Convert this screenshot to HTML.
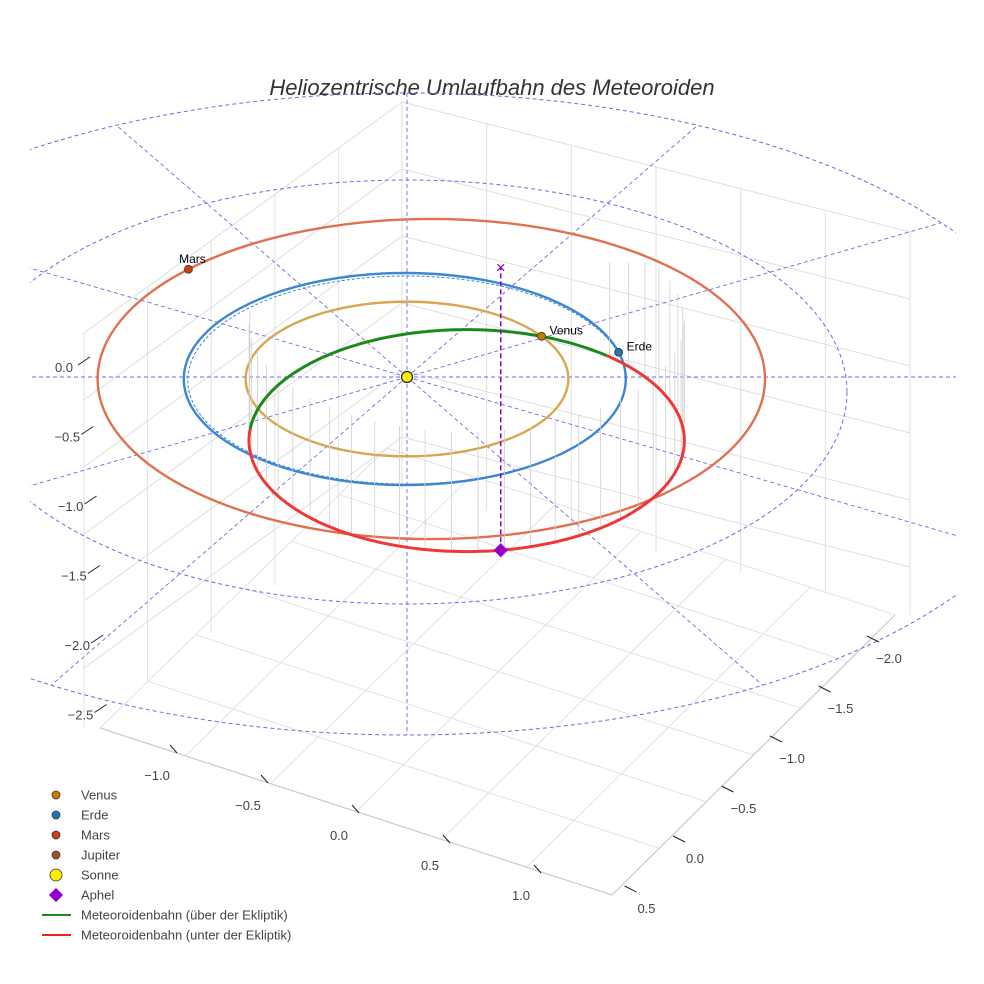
<!DOCTYPE html>
<html><head><meta charset="utf-8">
<style>
body{margin:0;background:#fff;}
svg{display:block;font-family:"Liberation Sans",sans-serif;}
</style></head>
<body>
<svg id="c" width="984" height="984" viewBox="0 0 984 984">
<text x="492" y="95" text-anchor="middle" font-size="22" font-style="italic" fill="#333">Heliozentrische Umlaufbahn des Meteoroiden</text>
<defs><clipPath id="clip"><rect x="30" y="60" width="926" height="700"/></clipPath></defs>
<g id="grid"></g>
<g id="rings" clip-path="url(#clip)"></g>
<g id="marks"></g>
<g id="axes"></g>
<g id="legend"></g>
</svg>
<script>
// ---- data ----
const planetNames = ["Venus","Erde","Mars"];
const planetRadius = [0.73, 1.0, 1.51];
const planetOffsetX = [0.0, -0.01, 0.11];
const planetAngleDeg = [33.5, 14.6, 136.7];
const planetColors = ["#cc7a00","#1f77b4","#d04010"];
const orbitColors = ["#d9a550","#3d86d0","#e07050"];
const meteorCenter = [0.27, -0.6];
const meteorAxes = [0.985, 1.047];
const greenRange = [50, 174];
const aphelAngleDeg = 279;
const zTickLabels = ["0.0","−0.5","−1.0","−1.5","−2.0","−2.5"];
const xTickLabels = ["−1.0","−0.5","0.0","0.5","1.0"];
const yTickLabels = ["−2.0","−1.5","−1.0","−0.5","0.0","0.5"];
const legendLabels = ["Venus","Erde","Mars","Jupiter","Sonne","Aphel","Meteoroidenbahn (über der Ekliptik)","Meteoroidenbahn (unter der Ekliptik)"];

const NS="http://www.w3.org/2000/svg";
const SX=407, SY=377, KX=221, KY=106;
function px(x){return SX+KX*x;}
function py(y){return SY-KY*y;}
function el(tag,attrs,parent){const e=document.createElementNS(NS,tag);for(const k in attrs)e.setAttribute(k,attrs[k]);parent.appendChild(e);return e;}
const grid=document.getElementById('grid'),rings=document.getElementById('rings'),marks=document.getElementById('marks'),axes=document.getElementById('axes'),legend=document.getElementById('legend');

// ---- box grid ----
function ln(p,q,col,w,parent){const l=el('line',{x1:p[0],y1:p[1],x2:q[0],y2:q[1],stroke:col,'stroke-width':w},parent);return l;}
const backX=402;
for(let i=0;i<6;i++){const yb=102+i*67;
 if(yb<500){ const g1=ln([backX,yb],[84,yb+231],'#dedede',1,grid);  
 const g2=ln([backX,yb],[910,yb+130],'#dedede',1,grid);  }
}
for(let i=0;i<6;i++){const t=i/5; const x=backX+(84-backX)*t; const l=ln([x,102+231*t],[x,490+238*t],'#e2e2e2',1,grid);  }
for(let i=0;i<7;i++){const t=i/6; const x=backX+(910-backX)*t; const l=ln([x,102+130*t],[x,490+125*t],'#e2e2e2',1,grid);  }
const A=[100,728],B=[612,895],C=[895,615],D=[387,448];
for(let i=0;i<=6;i++){const t=i/6;const p=[A[0]+(B[0]-A[0])*t,A[1]+(B[1]-A[1])*t],q=[D[0]+(C[0]-D[0])*t,D[1]+(C[1]-D[1])*t];const l=ln(p,q,'#e2e2e2',1,grid);}
for(let i=0;i<=6;i++){const t=i/6;const p=[A[0]+(D[0]-A[0])*t,A[1]+(D[1]-A[1])*t],q=[B[0]+(C[0]-B[0])*t,B[1]+(C[1]-B[1])*t];const l=ln(p,q,'#e2e2e2',1,grid);}
[[A,B],[B,C]].forEach(s=>{const l=ln(s[0],s[1],'#cccccc',1.2,grid);});

// ---- dashed rings and spokes ----
const OC=[407,414,665,321];
[[407,392,440,212],OC].forEach(r=>{const e=el('ellipse',{cx:r[0],cy:r[1],rx:r[2],ry:r[3],fill:'none',stroke:'#6a6ae8','stroke-width':1,'stroke-dasharray':'4,3'},rings);});
function hitOuter(dx,dy){const a=(dx/OC[2])**2+(dy/OC[3])**2;const ox=(SX-OC[0])/OC[2],oy=(SY-OC[1])/OC[3];const b=2*(ox*dx/OC[2]+oy*dy/OC[3]);const c=ox*ox+oy*oy-1;const t=(-b+Math.sqrt(b*b-4*a*c))/(2*a);return [SX+t*dx,SY+t*dy];}
for(let k=0;k<12;k++){const a=k*Math.PI/6;const dx=Math.cos(a)*2,dy=-Math.sin(a);const q=hitOuter(dx,dy);const l=ln([SX,SY],q,'#6a6ae8',0.9,rings);l.setAttribute('stroke-dasharray','4,3');}

// ---- planet orbits ----
for(let i=0;i<planetNames.length;i++){const cx=px(planetOffsetX[i]);
 const e=el('ellipse',{cx:cx,cy:SY+2,rx:KX*planetRadius[i],ry:KY*planetRadius[i],fill:'none',stroke:orbitColors[i],'stroke-width':2.4},marks);
 
 if(i===1){const e2=el('ellipse',{cx:cx+2,cy:SY+3,rx:KX*planetRadius[i]-2,ry:KY*planetRadius[i]-2,fill:'none',stroke:'#3d86d0','stroke-width':1,'stroke-dasharray':'3,2'},marks);}
}

// ---- meteoroid orbit ----
function mpt(deg){const t=deg*Math.PI/180;return [px(meteorCenter[0]+meteorAxes[0]*Math.cos(t)),py(meteorCenter[1]+meteorAxes[1]*Math.sin(t))];}
for(let d=0;d<360;d+=7){const p=mpt(d);const inG=d>=greenRange[0]&&d<=greenRange[1];if(inG)continue;const top=p[1]-120;const l=ln(p,[p[0],Math.max(top,262)],'#cfcfcf',0.8,marks);}
function arc(a0,a1){let s='';for(let d=a0;d<=a1;d+=1){const p=mpt(d);s+=(s?'L':'M')+p[0].toFixed(1)+','+p[1].toFixed(1);}return s;}
const red=el('path',{d:arc(greenRange[1],360+greenRange[0]),fill:'none',stroke:'#ee3838','stroke-width':3},marks);

const green=el('path',{d:arc(greenRange[0],greenRange[1]),fill:'none',stroke:'#1a8a1a','stroke-width':3},marks);


// aphel
const ap=mpt(aphelAngleDeg);
const apl=ln([ap[0],ap[1]],[ap[0],268],'#8a00c8',1.5,marks);apl.setAttribute('stroke-dasharray','5,3');
const apx=el('text',{x:ap[0],y:273,'text-anchor':'middle','font-size':17,fill:'#8a00c8'},marks);apx.textContent='×';
const apd=el('rect',{x:ap[0]-5,y:ap[1]-5,width:10,height:10,fill:'#9400d3',transform:`rotate(45 ${ap[0]} ${ap[1]})`},marks);

// sun
const sun=el('circle',{cx:SX,cy:SY,r:5.5,fill:'#ffee00',stroke:'#222','stroke-width':1.2},marks);

// planets
for(let i=0;i<planetNames.length;i++){const t=planetAngleDeg[i]*Math.PI/180;const x=px(planetOffsetX[i]+planetRadius[i]*Math.cos(t)),y=SY+2-KY*planetRadius[i]*Math.sin(t);
 const c=el('circle',{cx:x,cy:y,r:4,fill:planetColors[i],stroke:'#333','stroke-width':0.8},marks);
 const tx=el('text',{x:i===2?x+4:x+8,y:i===2?y-6:y-2,'font-size':12,fill:'#000','text-anchor':i===2?'middle':'start'},marks);tx.textContent=planetNames[i];}

// ---- axis ticks ----
zTickLabels.forEach((s,i)=>{const y=360+i*69.5,x=80+i*3.3;const l=ln([x-2,y+5],[x+10,y-3],'#222',1,axes);const t=el('text',{x:x-16,y:y+12,'font-size':13,fill:'#444','text-anchor':'middle'},axes);t.textContent=s;});
xTickLabels.forEach((s,i)=>{const x=157+i*91,y=775+i*30;const l=ln([x+13,y-30],[x+20,y-22],'#222',1,axes);const t=el('text',{x:x,y:y+5,'font-size':13,fill:'#444','text-anchor':'middle'},axes);t.textContent=s;});
yTickLabels.forEach((s,i)=>{const x=889-i*48.5,y=658+i*50;const l=ln([x-22,y-22],[x-10,y-16],'#222',1,axes);const t=el('text',{x:x,y:y+5,'font-size':13,fill:'#444','text-anchor':'middle'},axes);t.textContent=s;});

// ---- legend ----
const legColors=["#cc7a00","#1f77b4","#d04010","#a0522d","#ffee00","#9400d3","#1a8a1a","#ee2222"];
legendLabels.forEach((s,i)=>{const y=795+i*20;let m;
 if(i<5){m=el('circle',{cx:56,cy:y,r:i===4?6:4,fill:legColors[i],stroke:'#333','stroke-width':0.8},legend);}
 else if(i===5){m=el('rect',{x:51,y:y-5,width:10,height:10,fill:legColors[i],transform:`rotate(45 56 ${y})`},legend);}
 else {m=el('line',{x1:42,y1:y,x2:71,y2:y,stroke:legColors[i],'stroke-width':2},legend);}
 
 const t=el('text',{x:81,y:y+4.5,'font-size':13,fill:'#444'},legend);t.textContent=s;});
</script>
</body></html>
